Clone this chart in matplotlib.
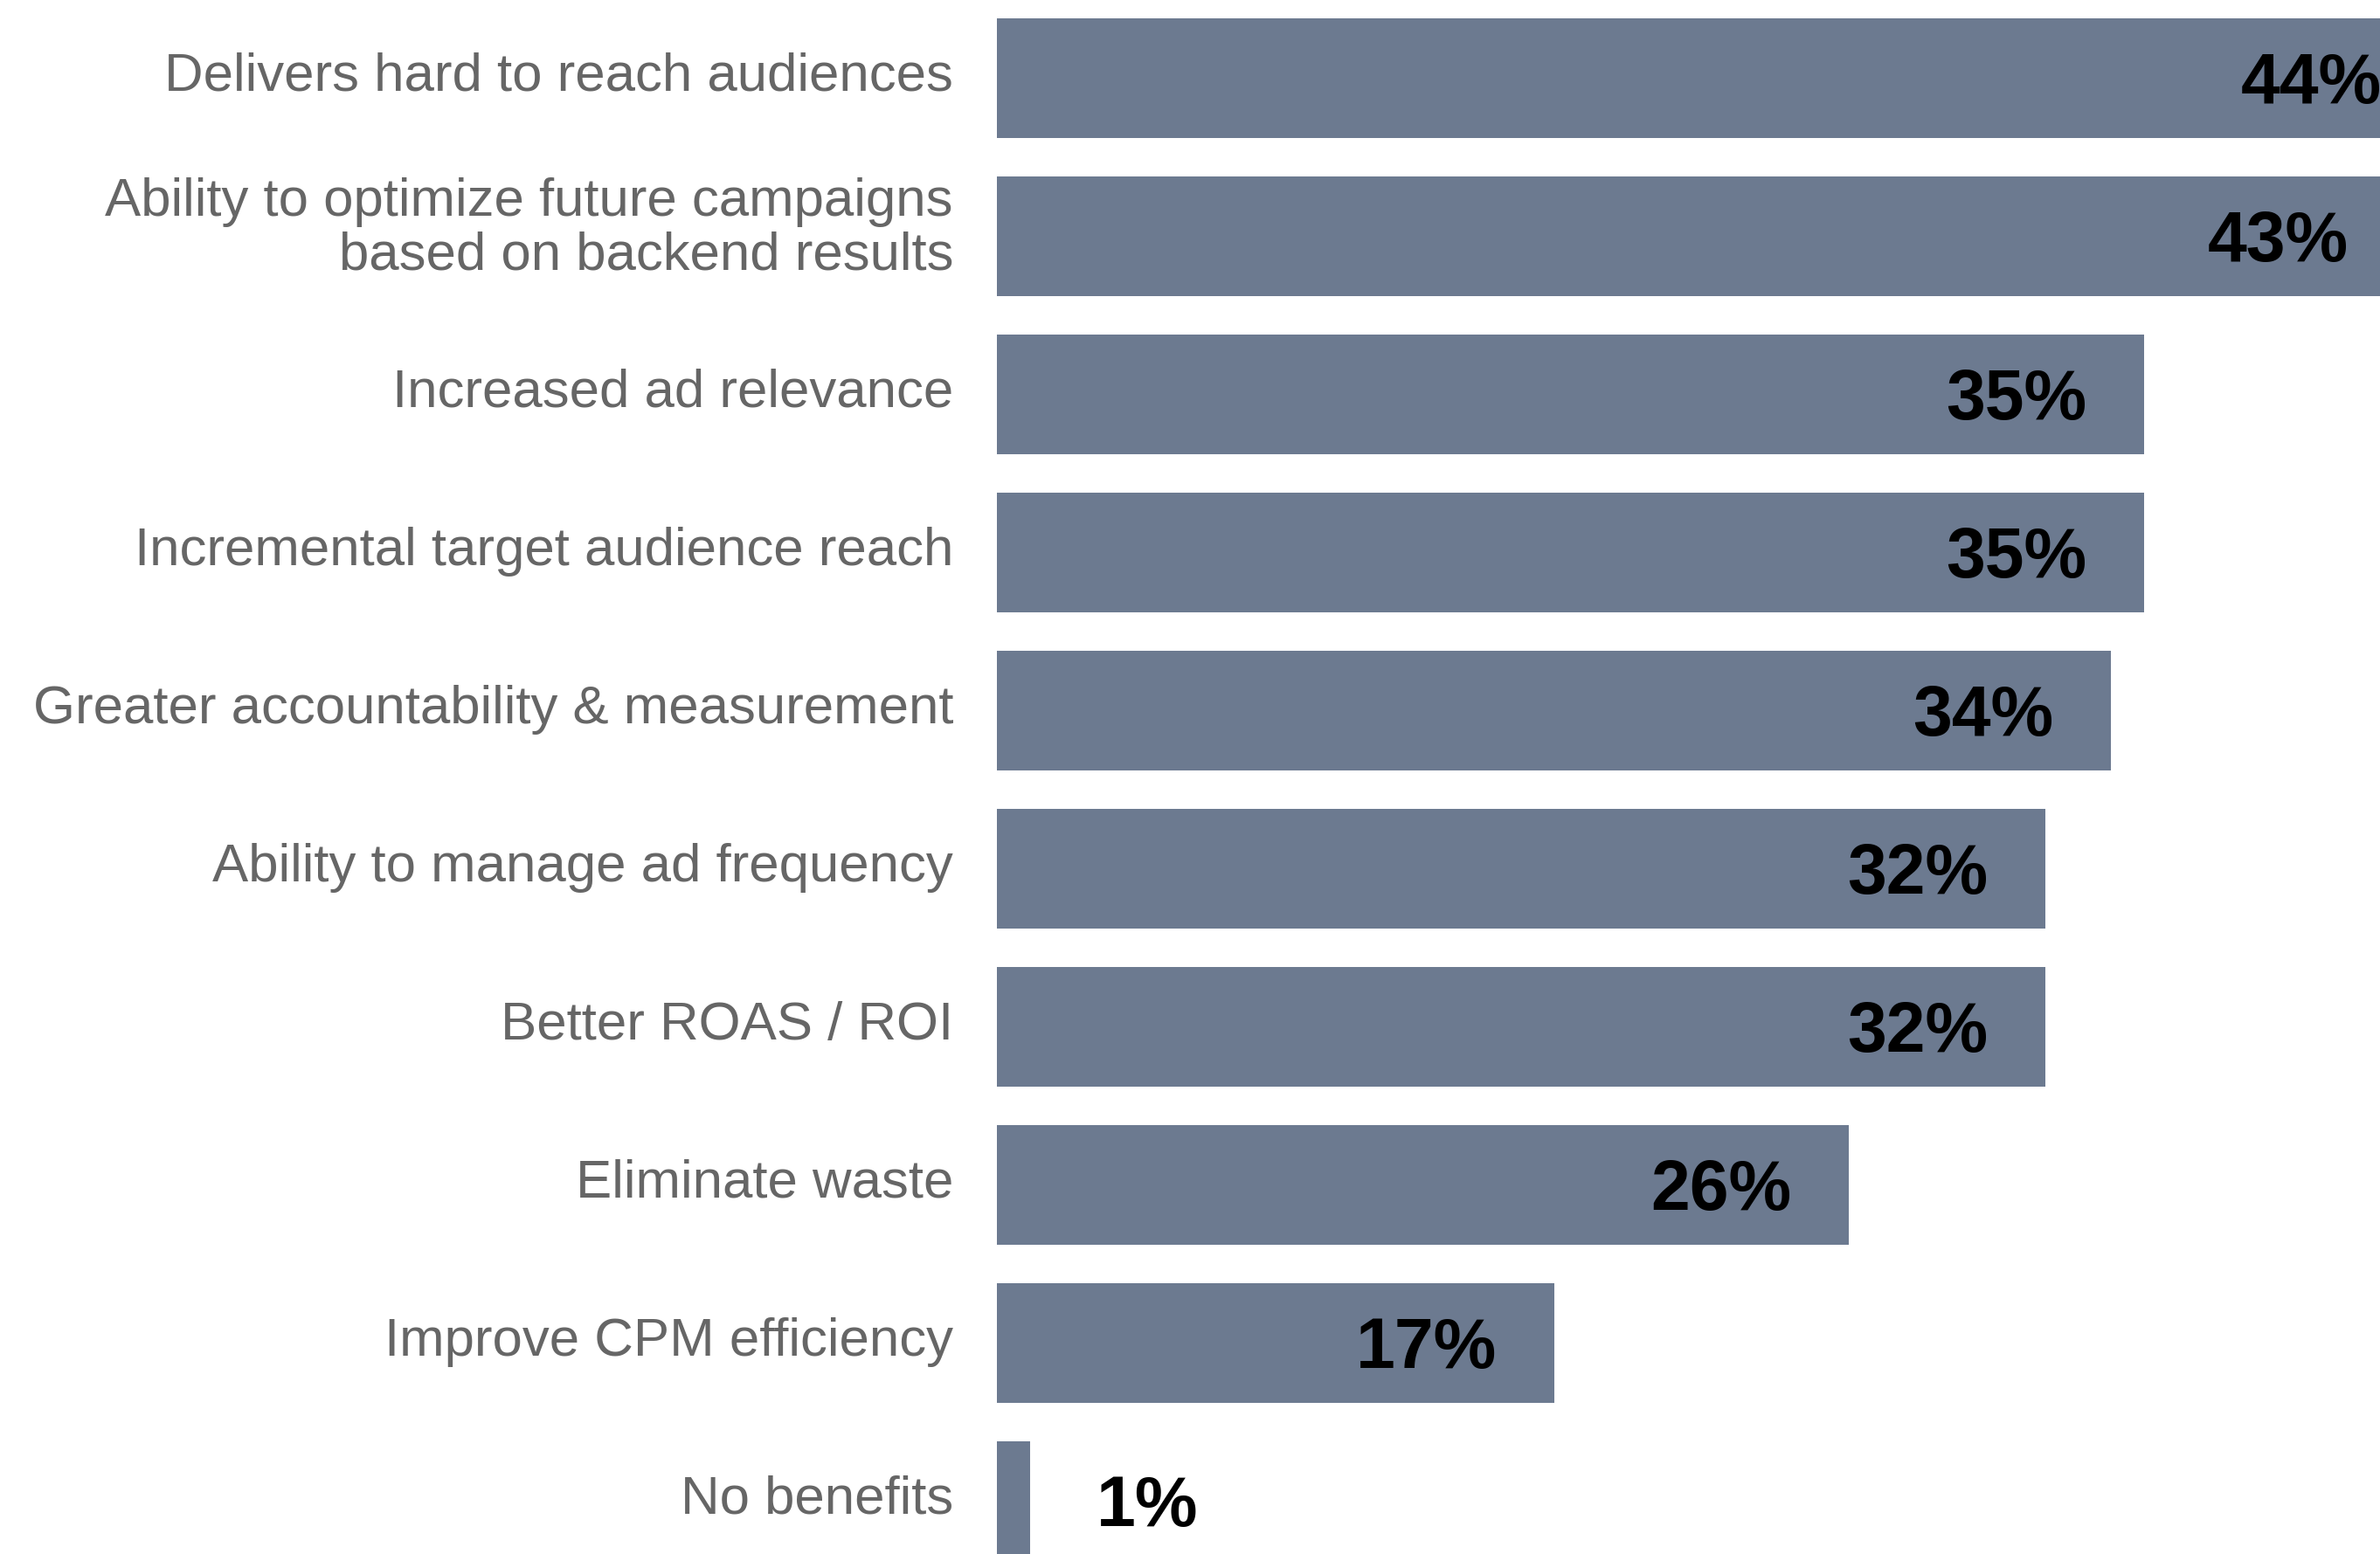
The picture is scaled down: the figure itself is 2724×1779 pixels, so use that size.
import matplotlib
matplotlib.use("Agg")
import matplotlib.pyplot as plt
import matplotlib.transforms as mtransforms

# Survey results: perceived benefits (% of respondents)
categories = [
    "Delivers hard to reach audiences",
    "Ability to optimize future campaigns\nbased on backend results",
    "Increased ad relevance",
    "Incremental target audience reach",
    "Greater accountability & measurement",
    "Ability to manage ad frequency",
    "Better ROAS / ROI",
    "Eliminate waste",
    "Improve CPM efficiency",
    "No benefits",
]
values = [44, 43, 35, 35, 34, 32, 32, 26, 17, 1]

BAR_COLOR = "#6c7a90"
LABEL_COLOR = "#666666"
FONT = "Liberation Sans"

W, H, DPI = 2724, 1779, 100
fig = plt.figure(figsize=(W / DPI, H / DPI), dpi=DPI)
fig.patch.set_facecolor("white")

# Axes placement in pixels: bars start at x=1141, row pitch 181 px
x0_px = 1141
row_px = 181.0
first_center_px = 89.5
n = len(categories)
top_px = first_center_px - row_px / 2
bottom_px = first_center_px + (n - 1) * row_px + row_px / 2
ax = fig.add_axes([x0_px / W, (H - bottom_px) / H,
                   (W - x0_px) / W, (bottom_px - top_px) / H])

px_per_pct = 37.5
ax.set_xlim(0, (W - x0_px) / px_per_pct)
ax.set_ylim(n - 0.5, -0.5)

ypos = list(range(n))
ax.barh(ypos, values, height=0.757, color=BAR_COLOR, edgecolor="none")

ax.set_axis_off()

unit = 1.0 / row_px  # data units per pixel (vertical)

# Value labels
for y, v in zip(ypos, values):
    base = y + 29 * unit
    if v < 5:
        ax.text(v + 2.05, base, f"{v}%", ha="left", va="baseline",
                fontsize=58, fontweight="bold", color="black",
                family=FONT)
    else:
        ax.text(v - 1.75, base, f"{v}%", ha="right", va="baseline",
                fontsize=58, fontweight="bold", color="black",
                family=FONT, clip_on=False)

# Category labels, right-aligned left of the bars
trans = mtransforms.blended_transform_factory(ax.transAxes, ax.transData)
label_x = (1091 - x0_px) / (W - x0_px)
line_pitch = 62 * unit
for y, cat in zip(ypos, categories):
    lines = cat.split("\n")
    k = len(lines)
    shift = 0.08 if k == 1 else 0.04
    for i, line in enumerate(lines):
        base = y + shift + (i - (k - 1) / 2) * line_pitch
        ax.text(label_x, base, line, transform=trans, ha="right",
                va="baseline", fontsize=44.5, color=LABEL_COLOR,
                family=FONT, clip_on=False)

fig.savefig("out.png", dpi=DPI, facecolor="white")
